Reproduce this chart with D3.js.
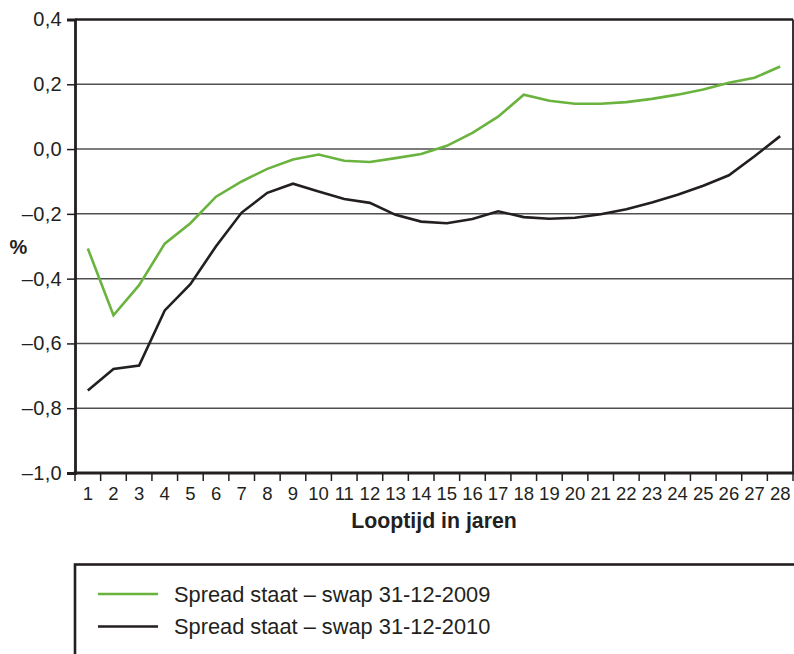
<!DOCTYPE html>
<html>
<head>
<meta charset="utf-8">
<script src="https://cdn.jsdelivr.net/npm/d3@7/dist/d3.min.js"></script>
<style>
  body { margin: 0; background: #fff; }
  svg { display: block; font-family: "Liberation Sans", Arial, sans-serif; }
</style>
</head>
<body>
<div class="container"></div>
<script>
const WIDTH = 794;
const HEIGHT = 654;

// looptijd in jaren
var years = d3.range(1, 29);

var spread2009 = [-0.307, -0.513, -0.42, -0.292, -0.229, -0.147, -0.10, -0.061, -0.032, -0.017,
    -0.036, -0.04, -0.028, -0.015, 0.01, 0.05, 0.10, 0.168, 0.149, 0.14,
    0.14, 0.145, 0.155, 0.168, 0.184, 0.205, 0.22, 0.255];

var spread2010 = [-0.745, -0.679, -0.668, -0.498, -0.417, -0.30, -0.196, -0.135, -0.107, -0.131,
    -0.154, -0.166, -0.203, -0.224, -0.229, -0.216, -0.192, -0.21, -0.215, -0.212,
    -0.201, -0.186, -0.165, -0.141, -0.113, -0.081, -0.022, 0.04];

var yTicks = [0.4, 0.2, 0.0, -0.2, -0.4, -0.6, -0.8, -1.0];

var seriesNames = ["Spread staat \u2013 swap 31-12-2009", "Spread staat \u2013 swap 31-12-2010"];
var seriesColors = ["#6ab33e", "#231f20"];

var INK = "#231f20";
var plot = {left: 75, right: 793, top: 19.5, bottom: 473};

var fmt = function(d){
    var s = Math.abs(d).toFixed(1).replace(".", ",");
    return d < -0.0001 ? "\u2013" + s : s;
};

var load = function(){
    var svg = d3.select(".container")
        .append("svg")
        .attr("width", WIDTH)
        .attr("height", HEIGHT);

    var x = d3.scaleBand()
        .domain(years)
        .range([plot.left, plot.right]);

    var y = d3.scaleLinear()
        .domain([-1.0, 0.4])
        .range([plot.bottom, plot.top]);

    // gridlines
    svg.append("g")
        .selectAll("line")
        .data(yTicks.filter(function(d){ return d > -1 && d < 0.4; }))
        .enter()
        .append("line")
        .attr("x1", plot.left)
        .attr("x2", plot.right)
        .attr("y1", function(d){ return y(d); })
        .attr("y2", function(d){ return y(d); })
        .style("stroke", "#505050")
        .style("stroke-width", 1.5);

    // top + right border
    svg.append("line")
        .attr("x1", plot.left).attr("x2", plot.right)
        .attr("y1", y(0.4)).attr("y2", y(0.4))
        .style("stroke", INK).style("stroke-width", 2.5);
    svg.append("line")
        .attr("x1", plot.right).attr("x2", plot.right)
        .attr("y1", y(0.4)).attr("y2", y(-1.0))
        .style("stroke", INK).style("stroke-width", 1.8);

    // y axis
    var yAxis = svg.append("g")
        .attr("transform", "translate(" + plot.left + ",0)")
        .call(d3.axisLeft(y).tickValues(yTicks).tickFormat(fmt).tickSize(8).tickPadding(5));
    yAxis.select(".domain").style("stroke", INK).style("stroke-width", 2.8);
    yAxis.selectAll(".tick line").style("stroke", INK).style("stroke-width", 1.5);
    yAxis.selectAll(".tick text")
        .style("font-size", "20px")
        .style("letter-spacing", "0.3px")
        .style("fill", INK);

    // x axis: labels at band centres, ticks at band edges
    var xAxis = svg.append("g")
        .attr("transform", "translate(0," + plot.bottom + ")")
        .call(d3.axisBottom(x).tickSize(0).tickPadding(0));
    xAxis.select(".domain").remove();
    xAxis.selectAll(".tick text")
        .attr("y", 26.5)
        .attr("dy", 0)
        .style("font-size", "18.5px")
        .style("fill", INK);

    var edges = years.map(function(d){ return x(d); }).concat([x(years[years.length - 1]) + x.bandwidth()]);
    svg.append("g")
        .selectAll("line")
        .data(edges)
        .enter()
        .append("line")
        .attr("x1", function(d){ return d; })
        .attr("x2", function(d){ return d; })
        .attr("y1", plot.bottom)
        .attr("y2", plot.bottom + 8)
        .style("stroke", INK)
        .style("stroke-width", 1.5);

    svg.append("line")
        .attr("x1", plot.left - 1.4).attr("x2", plot.right + 1)
        .attr("y1", plot.bottom).attr("y2", plot.bottom)
        .style("stroke", INK).style("stroke-width", 2.8);

    // series
    var line = d3.line()
        .x(function(d, i){ return x(years[i]) + x.bandwidth() / 2; })
        .y(function(d){ return y(d); });

    [spread2009, spread2010].forEach(function(s, k){
        svg.append("path")
            .datum(s)
            .attr("d", line)
            .style("fill", "none")
            .style("stroke", seriesColors[k])
            .style("stroke-width", 2.6)
            .style("stroke-linejoin", "miter");
    });

    // axis titles
    svg.append("text")
        .attr("x", 18.5)
        .attr("y", 254)
        .attr("text-anchor", "middle")
        .style("font-size", "20px")
        .style("font-weight", "bold")
        .style("fill", INK)
        .text("%");

    svg.append("text")
        .attr("x", (plot.left + plot.right) / 2)
        .attr("y", 527.5)
        .attr("text-anchor", "middle")
        .style("font-size", "21.3px")
        .style("font-weight", "bold")
        .style("fill", INK)
        .text("Looptijd in jaren");

    // legend
    svg.append("rect")
        .attr("x", 75)
        .attr("y", 564.5)
        .attr("width", 760)
        .attr("height", 120)
        .style("fill", "none")
        .style("stroke", INK)
        .style("stroke-width", 2.6);

    var leg = svg.append("g")
        .selectAll("g")
        .data(seriesNames)
        .enter()
        .append("g")
        .attr("transform", function(d, i){ return "translate(98," + (594 + i * 32.5) + ")"; });

    leg.append("line")
        .attr("x1", 0).attr("x2", 60)
        .style("stroke", function(d, i){ return seriesColors[i]; })
        .style("stroke-width", 2.6);

    leg.append("text")
        .attr("x", 76)
        .attr("dy", "0.36em")
        .style("font-size", "21.8px")
        .style("fill", INK)
        .text(function(d){ return d; });
};

window.onload = load;
</script>
</body>
</html>
